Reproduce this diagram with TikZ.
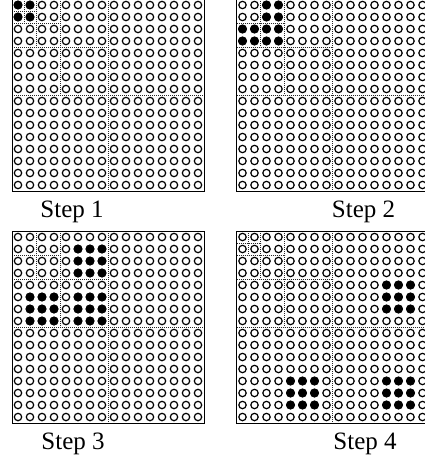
\documentclass[tikz,border=0pt]{standalone}
\usepackage{fontspec}
\setmainfont{Liberation Serif}
\tikzset{
  cellring/.style={draw=black, line width=1.2pt, fill=white},
  celldot/.style={draw=black, line width=1.2pt, fill=black},
  divline/.style={line width=0.6pt, draw=black!85, dash pattern=on 0.9pt off 1.1pt},
  frameline/.style={line width=1pt, draw=black},
  steplabel/.style={font=\fontsize{25}{29}\selectfont, anchor=base, inner sep=0pt},
}
\newcommand\ringgrid{%
  \foreach \i in {1,...,16}{\foreach \j in {1,...,16}{%
    \draw[cellring] (12*\i-6,12*\j-6) circle[radius=3.7pt];}}}
\newcommand\dotblock[4]{%
  \foreach \i in {#1,...,#2}{\foreach \j in {#3,...,#4}{%
    \draw[celldot] (12*\i-6,12*\j-6) circle[radius=3.9pt];}}}
\newcommand\coarselines{%
  \draw[divline] (96,0) -- (96,192);
  \draw[divline] (0,96) -- (192,96);
  \draw[divline] (48,0) -- (48,96);
  \draw[divline] (0,48) -- (96,48);
  \draw[divline] (24,0) -- (24,48);
  \draw[divline] (0,24) -- (48,24);}
\newcommand\finelines{%
  \draw[divline] (12,0) -- (12,24);
  \draw[divline] (0,12) -- (24,12);}
\newcommand\panelframe{\draw[frameline] (0,0) rectangle (192,192);}
\begin{document}
\begin{tikzpicture}[x=1pt,y=-1pt]
\useasboundingbox (0,0) rectangle (425,466);
\clip (0,0) rectangle (425,466);
\fill[white] (0,0) rectangle (425,466);
% Step 1
\begin{scope}[shift={(12,-1)}]
  \ringgrid
  \dotblock{1}{2}{1}{2}
  \coarselines \finelines
  \panelframe
\end{scope}
% Step 2
\begin{scope}[shift={(236.5,-1)}]
  \ringgrid
  \dotblock{3}{4}{1}{2}
  \dotblock{1}{4}{3}{4}
  \coarselines
  \panelframe
\end{scope}
% Step 3
\begin{scope}[shift={(12,231)}]
  \ringgrid
  \dotblock{6}{8}{2}{4}
  \dotblock{2}{4}{6}{8}
  \dotblock{6}{8}{6}{8}
  \coarselines
  \panelframe
\end{scope}
% Step 4
\begin{scope}[shift={(236.5,231)}]
  \ringgrid
  \dotblock{13}{15}{5}{7}
  \dotblock{5}{7}{13}{15}
  \dotblock{13}{15}{13}{15}
  \coarselines \finelines
  \panelframe
\end{scope}
\node[steplabel] (s1) at (72,217) {Step 1};
\node[steplabel] (s2) at (363.5,217) {Step 2};
\node[steplabel] (s3) at (73,449) {Step 3};
\node[steplabel] (s4) at (365,449) {Step 4};
\end{tikzpicture}
\end{document}
